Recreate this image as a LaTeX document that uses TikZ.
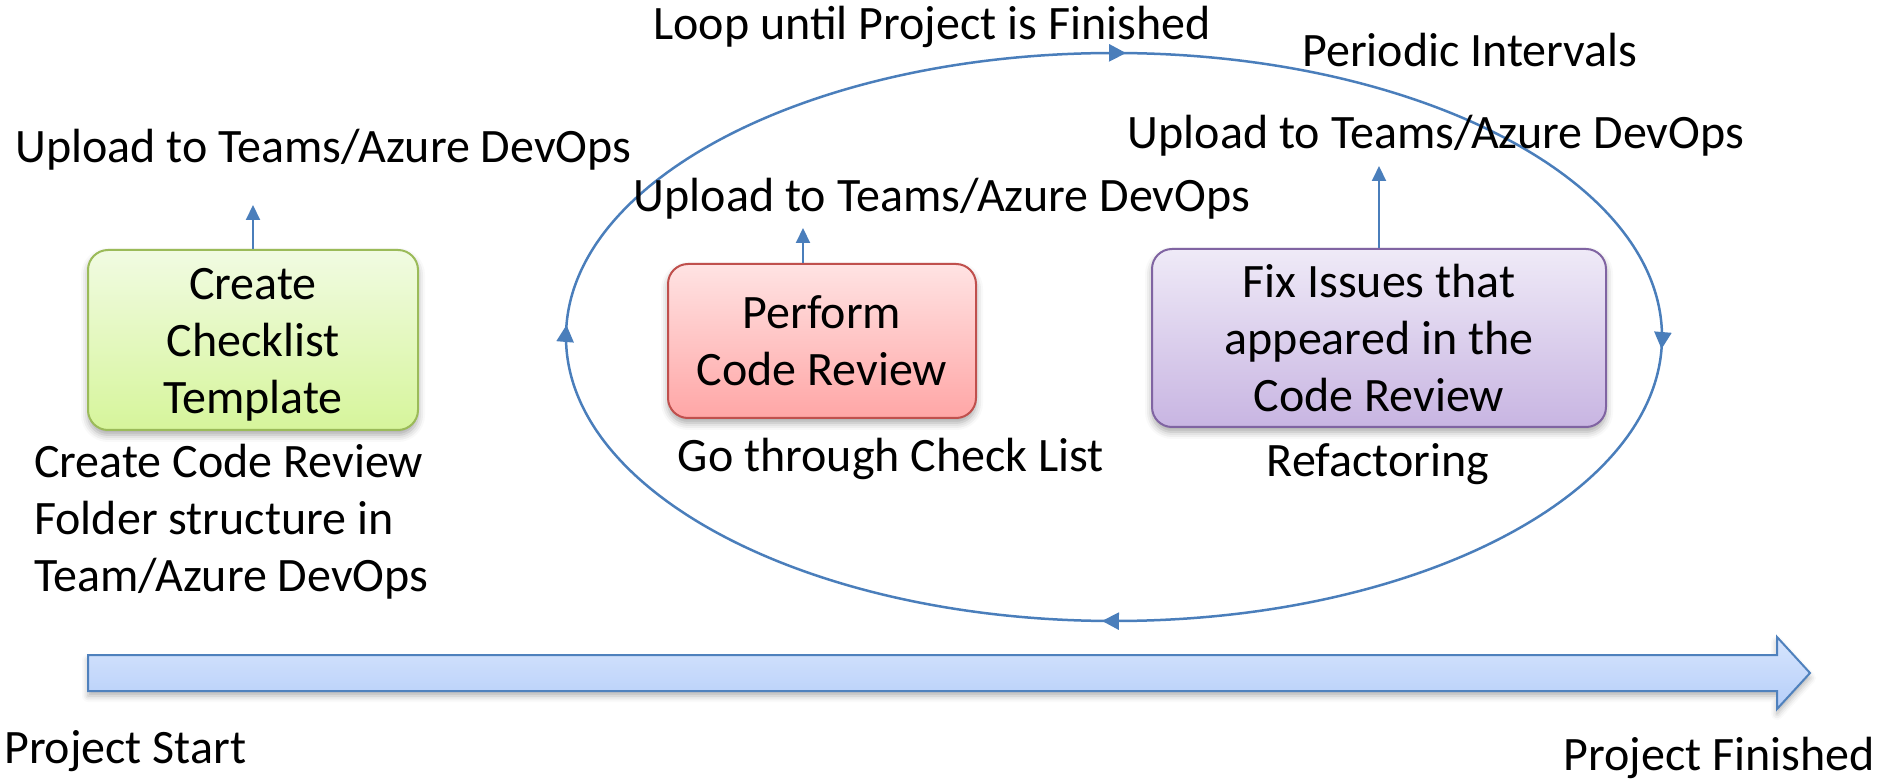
\documentclass[tikz,border=0pt]{standalone}
\usepackage{fontspec}
\setmainfont{Carlito}
\usetikzlibrary{arrows.meta,decorations.markings,shadows.blur}

\definecolor{linkblue}{HTML}{4A7EBB}
\definecolor{greenedge}{HTML}{9BBB59}
\definecolor{greentop}{HTML}{F1FBE2}
\definecolor{greenbot}{HTML}{D6F59B}
\definecolor{rededge}{HTML}{C0504D}
\definecolor{redtop}{HTML}{FFE3E3}
\definecolor{redbot}{HTML}{FFA6A6}
\definecolor{purpleedge}{HTML}{8064A2}
\definecolor{purpletop}{HTML}{EFEAF7}
\definecolor{purplebot}{HTML}{C8B5E2}
\definecolor{arrowedge}{HTML}{4F81BD}
\definecolor{arrowtop}{HTML}{D7E5FD}
\definecolor{arrowbot}{HTML}{B5CEF9}

\tikzset{
  caption/.style={font=\fontsize{48}{57}\selectfont, inner sep=0pt, anchor=base},
  stagebox/.style={rounded corners=20pt, line width=2pt, align=center,
    inner sep=0pt, font=\fontsize{48}{57}\selectfont,
    blur shadow={shadow xshift=0pt, shadow yshift=-5pt,
      shadow blur radius=7pt, shadow opacity=35}},
  upflow/.style={draw=linkblue, line width=2pt,
    -{Triangle[length=15pt,width=14pt]}},
  looptip/.tip={Triangle[length=17pt,width=17pt]},
}

\begin{document}
\begin{tikzpicture}[x=1pt,y=1pt]
\useasboundingbox (0,0) rectangle (1885,780);

% review loop, travelled clockwise
\coordinate (loopstart) at (566,443);
\draw[linkblue, line width=2.5pt, postaction={decorate},
  decoration={markings,
    mark=at position 0.0045 with {\arrow[linkblue]{looptip}},
    mark=at position 0.2545 with {\arrow[linkblue]{looptip}},
    mark=at position 0.5045 with {\arrow[linkblue]{looptip}},
    mark=at position 0.7545 with {\arrow[linkblue]{looptip}}}]
  (loopstart) arc[start angle=180, end angle=-180, x radius=548, y radius=284];

% stages (extra headroom over the first line keeps the green text centred)
\node[stagebox, draw=greenedge, top color=greentop, bottom color=greenbot,
  minimum width=330, minimum height=180] (create) at (253,440)
  {\rule{0pt}{41pt}Create\\Checklist\\Template};
\node[stagebox, draw=rededge, top color=redtop, bottom color=redbot,
  minimum width=308, minimum height=154] (review) at (822,439)
  {Perform\\Code Review};
\node[stagebox, draw=purpleedge, top color=purpletop, bottom color=purplebot,
  minimum width=454, minimum height=178] (fix) at (1379,442)
  {Fix Issues that\\appeared in the\\Code Review};

% uploads above each stage
\node[caption, anchor=base west] (upA) at (15,617) {Upload to Teams/Azure DevOps};
\node[caption] (upB) at (942,568) {Upload to Teams/Azure DevOps};
\node[caption] (upC) at (1436,631) {Upload to Teams/Azure DevOps};

\coordinate (tipA) at (253,575);
\coordinate (tipB) at (803,552);
\coordinate (tipC) at (1379,614);
\draw[upflow] (create.north) -- (tipA);
\draw[upflow] (review.north -| tipB) -- (tipB);
\draw[upflow] (fix.north) -- (tipC);

% loop captions
\node[caption] (looplabel) at (932,740) {Loop until Project is Finished};
\node[caption] (periodic) at (1470,713) {Periodic Intervals};

% captions under stages
\node[caption, anchor=north west, align=left]
  (folders) at (34,336)
  {Create Code Review\\Folder structure in\\Team/Azure DevOps};
\node[caption] (checklist) at (891,308) {Go through Check List};
\node[caption] (refactor) at (1378,303) {Refactoring};

% project timeline
\draw[draw=arrowedge, line width=2pt, top color=arrowtop, bottom color=arrowbot,
  blur shadow={shadow xshift=0pt, shadow yshift=-5pt,
    shadow blur radius=6pt, shadow opacity=30}]
  (88,89) -- (1777,89) -- (1777,71) -- (1810,107) -- (1777,143)
  -- (1777,125) -- (88,125) -- cycle;
\node[caption, anchor=base west] (start) at (4,17) {Project Start};
\node[caption, anchor=base east] (finish) at (1875,10) {Project Finished};
\end{tikzpicture}
\end{document}
